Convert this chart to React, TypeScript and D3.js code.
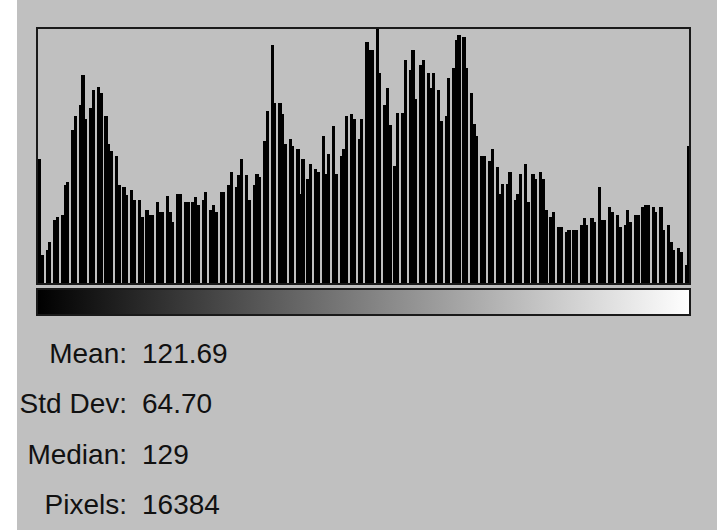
import React from "react";
import * as d3 from "d3";

// Histogram bin counts (scaled 0..256), read left to right; 0 = empty level
const shadows = [
  125, 29, 0, 34, 42, 0, 64, 67, 0, 69, 99, 102, 0, 154, 168, 0, 179, 209, 165, 0,
  176, 194, 0, 197, 191, 0, 168, 140, 133, 0, 128, 99, 0, 97, 89, 0, 94, 84, 0,
  84, 67, 0, 74, 69, 69, 0, 82, 72, 72, 0, 88, 72, 62, 0, 90, 90, 0, 82, 82, 0,
  82, 87, 79, 0, 84, 92, 0, 74, 79, 72, 0, 92, 92, 0, 99, 112, 0, 97, 109, 125, 0,
  109, 84, 0,
];
const midtones = [
  99, 110, 107, 0, 143, 173, 0, 239, 181, 0, 181, 170, 140, 0, 145, 138, 0,
  135, 90, 125, 0, 105, 120, 0, 115, 112, 0, 148, 110, 130, 0, 158, 110, 0,
  128, 135, 168, 0, 170, 165, 0, 145, 165, 0, 242, 234, 234, 0, 256, 211, 0,
  179, 196, 159, 0, 118, 171, 0, 171, 224, 0, 214, 234, 185, 0, 219, 224, 0,
  211, 196, 211, 0, 194, 163, 0, 168, 206, 0, 216, 244, 249, 0, 247, 216, 0,
];
const highlights = [
  191, 160, 148, 0, 128, 128, 0, 123, 135, 0, 117, 90, 100, 0, 100, 112, 0,
  84, 90, 110, 0, 120, 82, 0, 110, 105, 0, 112, 105, 74, 0, 67, 72, 0, 57, 57, 0,
  52, 54, 0, 54, 54, 0, 59, 66, 59, 0, 66, 62, 0, 97, 64, 64, 0, 77, 72, 0,
  69, 57, 0, 59, 74, 62, 0, 69, 69, 0, 77, 79, 79, 0, 77, 72, 0, 77, 54, 0,
  59, 42, 34, 0, 36, 32, 0, 19, 138,
];
const counts = [...shadows, ...midtones, ...highlights];

const statLabels = ["Mean:", "Std Dev:", "Median:", "Pixels:"];
const statValues = ["121.69", "64.70", "129", "16384"];

const W = 717;
const H = 530;
const box = { left: 37, top: 28, right: 691, bottom: 285 };

export default function App() {
  const x = d3
    .scaleBand<number>()
    .domain(d3.range(counts.length))
    .range([box.left + 1, box.right - 1])
    .padding(0);
  const y = d3.scaleLinear().domain([0, 256]).range([box.bottom - 1, box.top]);
  const bw = x.bandwidth();

  const statY = d3
    .scalePoint<number>()
    .domain(d3.range(statLabels.length))
    .range([363, 514]);

  return (
    <div style={{ position: "fixed", left: 0, top: 0 }}>
      <svg width={W} height={H} style={{ display: "block" }}>
        <defs>
          <linearGradient id="grad" x1="0" x2="1" y1="0" y2="0">
            <stop offset="0" stopColor="#000" />
            <stop offset="1" stopColor="#fff" />
          </linearGradient>
        </defs>
        <rect x={0} y={0} width={W} height={H} fill="#ffffff" />
        <rect x={17} y={0} width={W - 17} height={H} fill="#c0c0c0" />

        <g shapeRendering="crispEdges">
          {counts.map((c, i) =>
            c > 0 ? (
              <rect
                key={i}
                x={x(i)!}
                y={y(c)}
                width={bw + 0.7}
                height={y(0) - y(c)}
                fill="#000"
              />
            ) : null
          )}
        </g>

        <rect
          x={box.left}
          y={box.top}
          width={box.right - box.left - 1}
          height={box.bottom - box.top - 1}
          fill="none"
          stroke="#1a1a1a"
          strokeWidth={2}
        />

        <rect
          x={box.left}
          y={289}
          width={box.right - box.left - 1}
          height={26}
          fill="url(#grad)"
          stroke="#1a1a1a"
          strokeWidth={2}
        />

        <g
          fontFamily="'Liberation Sans', Arial, sans-serif"
          fontSize={28}
          fill="#111"
        >
          {statLabels.map((l, i) => (
            <g key={l}>
              <text x={127} y={statY(i)} textAnchor="end">
                {l}
              </text>
              <text x={142} y={statY(i)}>
                {statValues[i]}
              </text>
            </g>
          ))}
        </g>
      </svg>
    </div>
  );
}
